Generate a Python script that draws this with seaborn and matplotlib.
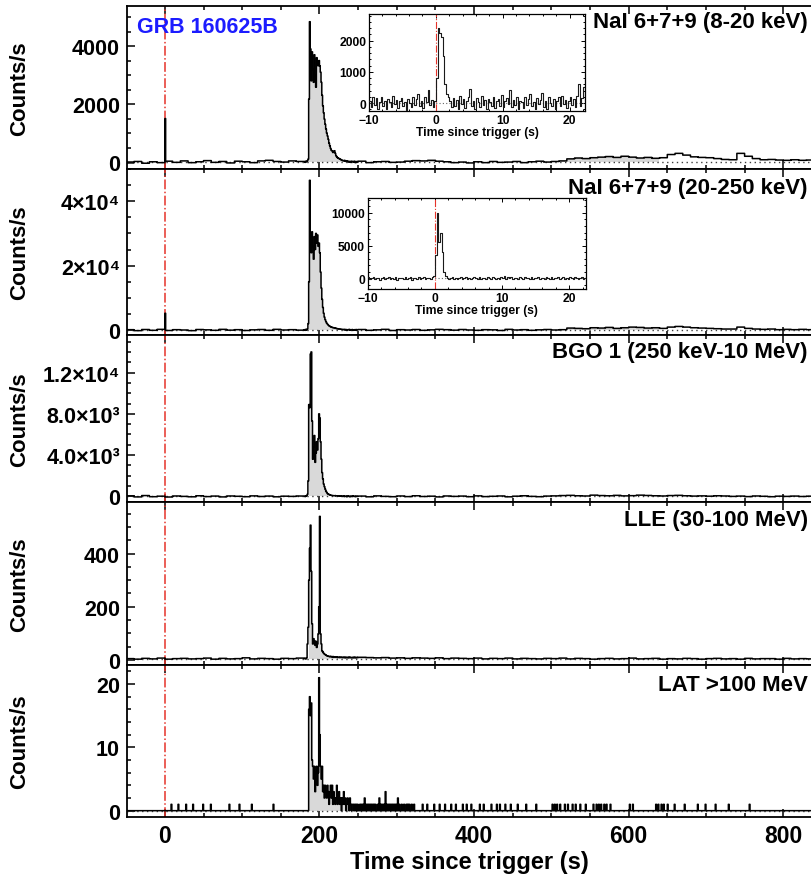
import numpy as np
import matplotlib
matplotlib.use('Agg')
import matplotlib.pyplot as plt
import seaborn as sns
from matplotlib import font_manager
from matplotlib.ticker import MultipleLocator, FixedLocator, FixedFormatter

# ---- light curve data (counts/s) ----
# 10 s bins from -50 to 180 s, 1 s bins 180-250 s, 10 s bins 250-840 s
nai_lo_pre = [-30, 20, -40, 10, -20, 30, -10, 40, -20, 10, 50, -10, 20, -30, 30,
              10, -20, 40, 60, 20, 0, 40, 20]
nai_lo_burst = [20, -10, 30, 10, 40, 100, 2170, 4840, 3900, 2800,
                3800, 3200, 2750, 3700, 3000, 2580, 3600, 3400, 3320, 3500,
                3320, 3100, 2750, 2300, 1940, 1700, 1480, 1300, 1140, 1000,
                900, 780, 650, 560, 470, 400, 390, 330, 360, 390,
                300, 220, 180, 150, 130, 120, 100, 90, 70, 60,
                50, 40, 60, 30, 20, 40, 10, 30, 0, 20,
                -10, 30, 10, 20, 0, 30, -20, 10, 20, 0]
nai_lo_post = [30, -20, 10, 20, -10, 0, 30, 50, 40, 60,
               30, 10, -20, 0, -30, 10, -20, 20, -10, 0,
               20, -20, 10, 30, 0, 20, 40, 110, 140, 120,
               150, 170, 190, 160, 200, 170, 140, 160, 130, 150,
               260, 300, 240, 180, 160, 150, 120, 90, 80, 300,
               200, 120, 80, 90, 70, 60, 80, 60, 70]

nai_hi_pre = [100, -200, 150, -100, 200, -150, 100, 0, -200, 150, 50, -100, 200,
              -50, 100, -150, 50, 150, -100, 200, 0, 100, -50]
nai_hi_burst = [100, -100, 200, 0, 300, 2000, 15000, 46500, 30000, 24000,
                30500, 26000, 22000, 29000, 25000, 30000, 27000, 29500, 26000, 27000,
                24000, 18000, 13000, 9500, 7000, 5200, 4000, 3200, 2600, 2100,
                1800, 1500, 1300, 1150, 1000, 900, 800, 750, 700, 650,
                600, 500, 450, 400, 350, 300, 300, 250, 200, 200,
                150, 100, 200, 0, 150, -100, 100, 50, 200, -50,
                100, 0, 150, -100, 50, 100, -50, 150, 0, 100]
nai_hi_post = [150, -100, 50, 200, -150, 100, 0, 150, -100, 50,
               200, 100, -50, 150, 0, -100, 100, 50, -150, 200,
               0, 100, -100, 50, 150, 0, 100, 600, 500, 400,
               700, 600, 800, 500, 700, 900, 800, 600, 700, 500,
               900, 1100, 900, 700, 600, 500, 400, 300, 300, 900,
               500, 300, 200, 300, 100, 200, 100, 200, 100]

bgo_pre = [50, -50, 80, -30, 20, -60, 40, 0, -40, 60, -20, 30, -50, 40, 10,
           -30, 50, -10, 30, -40, 20, 0, 40]
bgo_burst = [30, -20, 40, 60, 200, 1500, 8900, 8600, 13800, 14000,
             7300, 3600, 4800, 5900, 3300, 4200, 5300, 4500, 5600, 8000,
             7600, 5300, 3600, 2300, 1700, 1200, 940, 700, 500, 380,
             270, 220, 180, 150, 120, 100, 90, 80, 70, 60,
             80, 50, 40, 60, 30, 50, 20, 40, 10, 30,
             0, 40, -20, 30, 10, -30, 50, 0, 20, -40,
             30, 10, -10, 40, 0, 20, -30, 30, 10, 0]
bgo_post = [30, -40, 50, 0, -30, 40, -20, 60, -10, 20,
            -50, 40, 0, 30, -30, 50, -20, 10, 40, -40,
            20, 60, 0, -30, 30, 50, 80, 100, 60, 40,
            120, 80, 60, 100, 50, 70, 120, 90, 60, 40,
            80, 100, 60, 30, 50, 20, 60, 40, 0, 30,
            -20, 40, 10, -30, 20, 0, 30, -10, 20]

lle_pre = [5, 3, 6, 4, 7, 3, 5, 6, 4, 5, 7, 3, 6, 4, 5, 8, 4, 6, 5, 3, 6, 5, 7]
lle_burst = [5, 6, 4, 8, 60, 123, 300, 420, 507, 333,
             136, 60, 80, 72, 55, 70, 47, 60, 98, 200,
             540, 98, 60, 34, 30, 25, 22, 20, 18, 16,
             15, 14, 13, 12, 14, 12, 11, 13, 10, 12,
             11, 10, 12, 9, 11, 10, 9, 11, 10, 9,
             10, 9, 11, 8, 10, 9, 10, 8, 11, 9,
             10, 8, 9, 10, 8, 11, 9, 8, 10, 9]
lle_post = [10, 9, 8, 9, 7, 8, 6, 8, 7, 6,
            8, 5, 7, 6, 5, 7, 4, 6, 5, 7,
            4, 6, 5, 4, 6, 5, 7, 4, 6, 5,
            3, 5, 6, 4, 5, 7, 4, 5, 6, 3,
            5, 4, 6, 5, 3, 5, 6, 4, 5, 3,
            6, 4, 5, 5, 3, 6, 4, 5, 4]

precursor = [1500, 5200, 0, 0]   # counts/s in the bin starting at t = 0

# LAT >100 MeV, 1 s bins: burst 185-249 s plus isolated events
lat_burst = [0, 16, 18, 15, 17, 8, 7, 5, 7, 3,
             6, 7, 4, 6, 21, 12, 7, 5, 7, 3,
             4, 2, 4, 3, 2, 4, 3, 1, 3, 4,
             2, 4, 1, 3, 2, 1, 2, 4, 1, 2,
             3, 1, 2, 0, 2, 1, 3, 1, 2, 0,
             1, 2, 1, 0, 2, 1, 0, 1, 1, 0,
             1, 0, 1, 0, 1]
lat_single_t = [8, 17, 27, 36, 49, 59, 83, 96, 112, 140,
                252, 254, 256, 260, 262, 264, 266, 268, 270, 272, 275, 279, 281,
                283, 287, 289, 291, 293, 295, 297, 299, 303, 306, 309, 312, 314,
                316, 319, 322, 333, 339, 348, 355, 362, 370, 376, 385, 390, 396,
                407, 412, 422, 429, 433, 440, 447, 456, 467, 480, 501, 504, 507,
                511, 517, 521, 527, 531, 537, 544, 554, 558, 561, 564, 568, 571,
                576, 601, 605, 635, 638, 642, 645, 650, 659, 672, 689, 699, 712,
                729, 756]
lat_multi_t = [258, 277, 285, 301]
lat_multi_n = [2, 2, 3, 2]

# insets: first 32 s, 0.25 s bins from -10 s
inset_lo = [80, -120, 200, -60, 150, -200, 40, 180, -100, 60,
            -180, 120, 20, -140, 220, -40, 100, -160, 60, 160,
            -80, 40, -220, 140, 0, -120, 200, -60, 120, 300,
            -100, 60, -160, 180, 20, 420, -60, 100, -140, 80,
            800, 2390, 2230, 2100, 1500, 600, 300, 180, 60, -120,
            160, -80, 100, -200, 220, -40, 140, -160, 60, 200,
            450, -100, 80, -180, 160, 20, -120, 240, -60, 100,
            -200, 140, 40, -100, 180, -160, 60, 120, -80, 260,
            -120, 60, 160, -40, 420, -140, 100, -60, 200, -180,
            80, 20, -160, 180, -60, 120, 300, -100, 40, -200,
            160, -40, 100, 320, -120, 60, -180, 200, 0, -80,
            140, -200, 60, 180, -100, 240, -40, 100, -160, 80,
            200, -60, 120, -140, 220, 600, -80, 160, 500, 100]
inset_hi = [150, -100, 50, 200, -150, 0, 100, -200, 50, 150,
            -100, 0, 200, -150, 100, -50, 150, -200, 50, 0,
            100, -150, 200, -50, 50, 150, -200, 100, 0, -100,
            150, -50, 0, 200, -150, 100, 50, -100, 150, 300,
            3500, 10000, 5500, 7000, 4000, 1000, 300, 100, -100, 50,
            200, -50, 100, -150, 50, 150, -100, 0, 200, -50,
            100, -150, 50, 200, 0, -100, 150, -50, 100, 0,
            -150, 200, 50, -100, 150, 0, -50, 100, -150, 250,
            100, 300, -100, 200, 50, 150, -50, 100, 0, -150,
            150, 50, -100, 200, 0, 100, -50, 150, -100, 50,
            0, 200, -150, 100, 50, -100, 150, 0, -50, 200,
            -100, 100, 50, 250, -150, 0, 150, -50, 100, -100,
            150, 0, -100, 200, 50, -50, 100, 150, -100, 50]

labels = ['NaI 6+7+9 (8-20 keV)', 'NaI 6+7+9 (20-250 keV)', 'BGO 1 (250 keV-10 MeV)',
          'LLE (30-100 MeV)', 'LAT >100 MeV']
ytick_vals = [[0, 2000, 4000], [0, 2e4, 4e4], [0, 4e3, 8e3, 1.2e4], [0, 200, 400], [0, 10, 20]]
ytick_text = [['0', '2000', '4000'], ['0', '2×10⁴', '4×10⁴'],
              ['0', '4.0×10³', '8.0×10³', '1.2×10⁴'], ['0', '200', '400'], ['0', '10', '20']]
xtick_vals = [0, 200, 400, 600, 800]
inset_xticks = [-10, 0, 10, 20]

# ---- build binned curves on a 1 s grid ----
t = np.arange(-50, 840)
curves = []
for pre, burst, post, p in zip([nai_lo_pre, nai_hi_pre, bgo_pre, lle_pre],
                               [nai_lo_burst, nai_hi_burst, bgo_burst, lle_burst],
                               [nai_lo_post, nai_hi_post, bgo_post, lle_post], precursor):
    r = np.concatenate([np.repeat(pre, 10), burst, np.repeat(post, 10)]).astype(float)
    if p:
        r[t == 0] = p
    curves.append(r)
lat = np.zeros(len(t))
lat[np.isin(t, lat_single_t)] = 1
for tt, n in zip(lat_multi_t, lat_multi_n):
    lat[t == tt] = n
lat[(t >= 185) & (t < 250)] = lat_burst
curves.append(lat)
bg_level = [0, 0, 0, 5, 0]

# ---- style ----
sns.set_theme(style='ticks')
names = {f.name for f in font_manager.fontManager.ttflist}
fam = 'Liberation Sans' if 'Liberation Sans' in names else 'DejaVu Sans'
plt.rcParams['font.family'] = [fam, 'DejaVu Sans']
plt.rcParams['font.weight'] = 'bold'
plt.rcParams['axes.linewidth'] = 1.3
for k in ['axes.edgecolor', 'text.color', 'axes.labelcolor', 'xtick.color', 'ytick.color']:
    plt.rcParams[k] = 'black'

fig = plt.figure(figsize=(8.11, 8.79), dpi=100)
gs = fig.add_gridspec(5, 1, left=0.1566, right=1.002, top=0.992, bottom=0.0694,
                      hspace=0, height_ratios=[163, 166, 167, 163, 152])
ylims = [(-240, 5380), (-1560, 50000), (-545, 15640), (-19, 594), (-1.0, 23.0)]
ymin = [500, 5000, 1000, 50, 2]
lab_y = [0.908, 0.89, 0.90, 0.894, 0.87]

xe = np.append(t, t[-1] + 1)
for i in range(5):
    ax = fig.add_subplot(gs[i])
    r = curves[i]
    bg = np.full(len(t), bg_level[i], dtype=float)
    mask = (t >= 186) & (t < 640) & (r > bg)
    ax.fill_between(t, bg, r, where=mask, step='post', color='#d9d9d9', lw=0, zorder=1)
    ax.axhline(bg_level[i], color='0.25', lw=1.0, ls=(0, (1, 2.5)), zorder=2)
    ax.axvline(0, color='#e5332a', lw=1.1, ls='-.', zorder=2)
    sns.lineplot(x=xe, y=np.append(r, r[-1]), drawstyle='steps-post', color='black',
                 lw=1.1, estimator=None, sort=False, ax=ax, zorder=3)
    ax.set_xlim(-49, 838)
    ax.set_ylim(*ylims[i])
    ax.xaxis.set_major_locator(FixedLocator(xtick_vals))
    ax.xaxis.set_minor_locator(MultipleLocator(50))
    ax.yaxis.set_major_locator(FixedLocator(ytick_vals[i]))
    ax.yaxis.set_major_formatter(FixedFormatter(ytick_text[i]))
    ax.yaxis.set_minor_locator(MultipleLocator(ymin[i]))
    ax.tick_params(which='both', direction='in', top=True, right=False, width=1.1)
    ax.tick_params(which='major', length=6, labelsize=15.5, pad=5)
    ax.tick_params(which='minor', length=3)
    ax.set_ylabel('Counts/s', fontsize=16, fontweight='bold')
    ax.yaxis.set_label_coords(-0.1415, 0.5)
    ax.set_xlabel('')
    ax.text(0.993, lab_y[i], labels[i], transform=ax.transAxes, ha='right', va='center',
            fontsize=16, fontweight='bold')
    if i < 4:
        ax.tick_params(labelbottom=False)
    else:
        ax.set_xticklabels([str(v) for v in xtick_vals])
        ax.tick_params(axis='x', labelsize=16.5)
        ax.set_xlabel('Time since trigger (s)', fontsize=17, fontweight='bold', labelpad=2)
    if i == 0:
        ax.text(0.0146, 0.877, 'GRB 160625B', transform=ax.transAxes, ha='left', va='center',
                fontsize=15.5, fontweight='bold', color='#1c1cff')

# ---- insets ----
ti = np.arange(-10, 22.5, 0.25)
tie = np.append(ti, 22.5)
inset_specs = [
    ([369 / 811, 1 - 112 / 879, 216 / 811, 97 / 879], inset_lo, (-10, 22.3), (-256, 2850),
     [0, 1000, 2000], 200),
    ([367.7 / 811, 1 - 290 / 879, 218.3 / 811, 91 / 879], inset_hi, (-10, 22.5), (-1636, 12280),
     [0, 5000, 10000], 1000),
]
for rect, vals, xl, yl, yt, ymn in inset_specs:
    ia = fig.add_axes(rect)
    ia.set_facecolor('white')
    ia.axhline(0, color='0.4', lw=0.8, ls=(0, (1, 2)), zorder=1)
    ia.axvline(0, color='#e5332a', lw=0.8, ls='-.', zorder=2)
    sns.lineplot(x=tie, y=np.append(vals, vals[-1]), drawstyle='steps-post', color='0.1',
                 lw=0.8, estimator=None, sort=False, ax=ia, zorder=3)
    ia.set_xlim(*xl)
    ia.set_ylim(*yl)
    ia.xaxis.set_major_locator(FixedLocator(inset_xticks))
    ia.xaxis.set_minor_locator(MultipleLocator(2))
    ia.yaxis.set_major_locator(FixedLocator(yt))
    ia.yaxis.set_minor_locator(MultipleLocator(ymn))
    for sp in ia.spines.values():
        sp.set_linewidth(0.9)
    ia.tick_params(which='both', direction='in', top=True, right=True, width=0.7)
    ia.tick_params(which='major', length=3, labelsize=8.7, pad=2)
    ia.tick_params(which='minor', length=1.5)
    ia.set_ylabel('')
    ia.set_xlabel('Time since trigger (s)', fontsize=8.7, fontweight='bold', labelpad=0)

fig.savefig('out.png', dpi=100)
